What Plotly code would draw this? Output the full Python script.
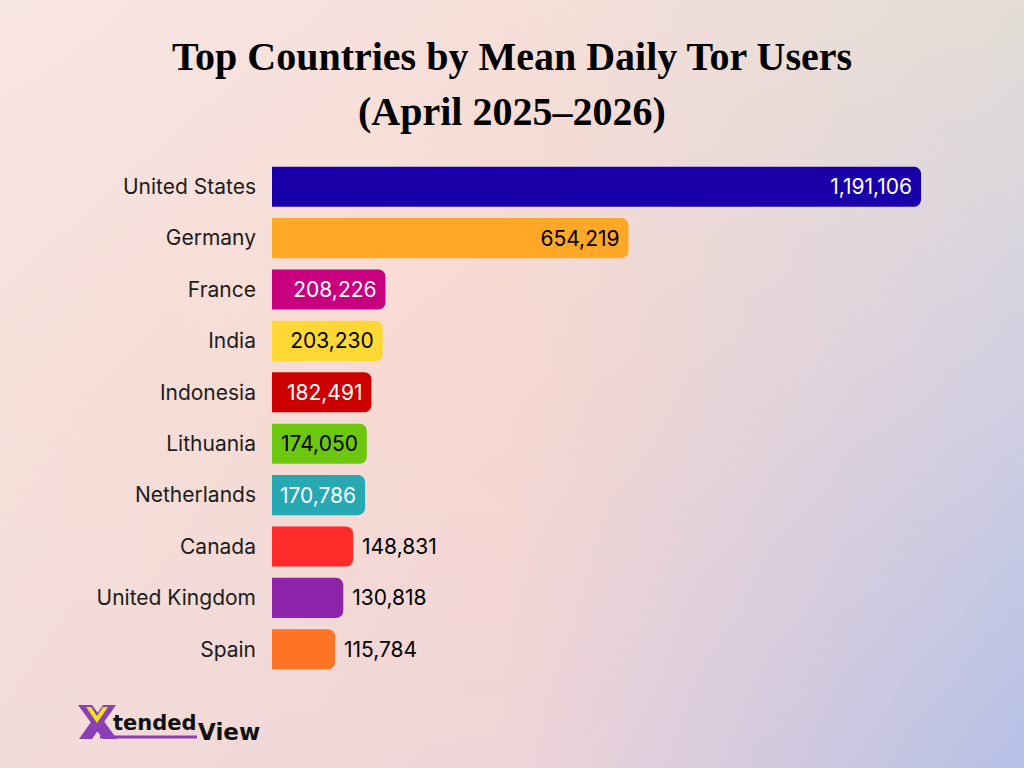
import base64, struct, zlib
import plotly.graph_objects as go

countries = ["United States", "Germany", "France", "India", "Indonesia",
             "Lithuania", "Netherlands", "Canada", "United Kingdom", "Spain"]
users = [1191106, 654219, 208226, 203230, 182491, 174050, 170786, 148831, 130818, 115784]
bar_colors = ["#1a00a8", "#ffa726", "#c8007f", "#fdd835", "#cc0000",
              "#6cc70e", "#26a9b2", "#ff2b2b", "#8e24aa", "#ff7424"]
text_colors = ["white", "black", "white", "black", "white",
               "black", "white", "black", "black", "black"]
text_positions = ["inside"] * 7 + ["outside"] * 3
title_lines = ["Top Countries by Mean Daily Tor Users", "(April 2025–2026)"]

W, H = 1024, 768
ML, MR, MT, MB = 272, 24, 161, 93
PW, PH = W - ML - MR, H - MT - MB

# ---------- background gradient image (styling only) ----------
grid = [
    [(248, 230, 228), (246, 223, 217), (227, 221, 214)],
    [(246, 224, 218), (247, 216, 208), (210, 208, 226)],
    [(242, 220, 216), (240, 212, 216), (183, 192, 230)],
]

def lerp(a, b, t):
    return tuple(a[i] + (b[i] - a[i]) * t for i in range(3))

def sample(u, v):
    gx, gy = u * 2, v * 2
    ix, iy = min(int(gx), 1), min(int(gy), 1)
    fx, fy = gx - ix, gy - iy
    top = lerp(grid[iy][ix], grid[iy][ix + 1], fx)
    bot = lerp(grid[iy + 1][ix], grid[iy + 1][ix + 1], fx)
    return lerp(top, bot, fy)

def make_png(w, h):
    raw = b""
    for y in range(h):
        raw += b"\x00"
        for x in range(w):
            c = sample(x / (w - 1), y / (h - 1))
            raw += bytes(int(round(ch)) for ch in c)
    def chunk(t, d):
        return struct.pack(">I", len(d)) + t + d + struct.pack(">I", zlib.crc32(t + d) & 0xffffffff)
    png = b"\x89PNG\r\n\x1a\n"
    png += chunk(b"IHDR", struct.pack(">IIBBBBB", w, h, 8, 2, 0, 0, 0))
    png += chunk(b"IDAT", zlib.compress(raw, 9))
    png += chunk(b"IEND", b"")
    return "data:image/png;base64," + base64.b64encode(png).decode()

bg_src = make_png(128, 96)

labels = []
for v, pos in zip(users, text_positions):
    s = f"{v:,}"
    labels.append(s + "\u00a0" if pos == "inside" else "\u00a0" + s)

fig = go.Figure(go.Bar(
    x=users, y=countries, orientation="h",
    marker=dict(color=bar_colors, line=dict(width=0)),
    text=labels, textposition=text_positions, insidetextanchor="end",
    textfont=dict(family="Inter", size=21, color=text_colors),
    outsidetextfont=dict(family="Inter", size=21, color="black"),
    cliponaxis=False, hoverinfo="skip",
))

XMAX = 1336000
fig.update_layout(
    width=W, height=H,
    margin=dict(l=ML, r=MR, t=MT, b=MB),
    paper_bgcolor="#f5dcd6", plot_bgcolor="rgba(0,0,0,0)",
    bargap=0.22, barcornerradius=7,
    showlegend=False,
    uniformtext=dict(minsize=21, mode="show"),
    xaxis=dict(range=[0, XMAX], visible=False, fixedrange=True),
    yaxis=dict(autorange="reversed", showgrid=False, zeroline=False, showline=False,
               ticks="", ticklabelstandoff=15,
               tickfont=dict(family="Inter", size=21, color="#1c1c1c")),
    images=[dict(source=bg_src, xref="paper", yref="paper",
                 x=-ML / PW, y=1 + MT / PH, sizex=W / PW, sizey=H / PH,
                 xanchor="left", yanchor="top", sizing="stretch", layer="below")],
)

def px_x(x):
    return (x - ML) / PW

def px_y(y):
    return (H - MB - y) / PH

# ---------- title ----------
for line, yc in zip(title_lines, [56, 112]):
    fig.add_annotation(text=f"<b>{line}</b>", x=px_x(W / 2), y=px_y(yc),
                       xref="paper", yref="paper", xanchor="center", yanchor="middle",
                       showarrow=False,
                       font=dict(family="Liberation Serif", size=40, color="black"))

# ---------- logo ----------
purple = "#8b3fb5"
fig.add_shape(type="line", xref="paper", yref="paper",
              x0=px_x(100), x1=px_x(197), y0=px_y(737), y1=px_y(737),
              line=dict(color=purple, width=3))
fig.add_shape(type="path", xref="paper", yref="paper",
              path=(f"M {px_x(78)},{px_y(705)} L {px_x(92)},{px_y(705)} L {px_x(117)},{px_y(739)} "
                    f"L {px_x(103)},{px_y(739)} Z"),
              fillcolor=purple, line=dict(width=0))
fig.add_shape(type="path", xref="paper", yref="paper",
              path=(f"M {px_x(103)},{px_y(705)} L {px_x(116)},{px_y(705)} L {px_x(92)},{px_y(739)} "
                    f"L {px_x(79)},{px_y(739)} Z"),
              fillcolor=purple, line=dict(width=0))
fig.add_shape(type="path", xref="paper", yref="paper",
              path=(f"M {px_x(86)},{px_y(707)} L {px_x(91)},{px_y(707)} L {px_x(97)},{px_y(716)} "
                    f"L {px_x(103)},{px_y(707)} L {px_x(108)},{px_y(707)} L {px_x(97)},{px_y(723)} Z"),
              fillcolor="#f2e312", line=dict(width=0))
fig.add_annotation(text="<b>tended</b>", x=px_x(111), y=px_y(723), xref="paper", yref="paper",
                   xanchor="left", yanchor="middle", showarrow=False,
                   font=dict(family="DejaVu Sans", size=21, color="#111111"))
fig.add_annotation(text="<b>View</b>", x=px_x(196), y=px_y(732), xref="paper", yref="paper",
                   xanchor="left", yanchor="middle", showarrow=False,
                   font=dict(family="DejaVu Sans", size=23, color="#111111"))

fig.write_html("out.html")
